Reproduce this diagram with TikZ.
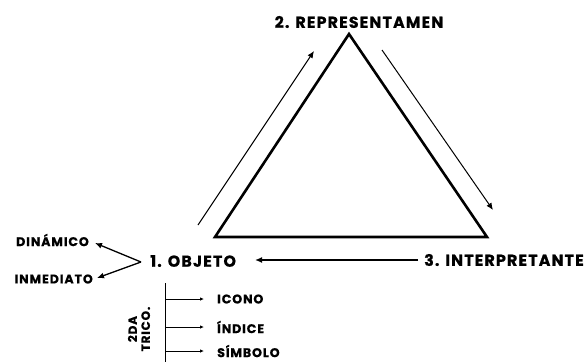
\documentclass[tikz,border=0pt]{standalone}
\usepackage{fontspec}
\setmainfont{Poppins}[BoldFont={* Bold}]
\newfontfamily\labfont{Poppins Bold}[LetterSpace=7,FakeBold=0.6]
\usetikzlibrary{arrows.meta}
\begin{document}
\begin{tikzpicture}[x=1pt,y=-1pt,
  big/.style={font=\labfont\fontsize{15.9}{17}\selectfont, inner sep=0pt},
  small/.style={font=\labfont\fontsize{12.6}{13}\selectfont, inner sep=0pt},
  tri/.style={line width=2.6pt, line join=miter},
  conn/.style={line width=1pt, -{Latex[length=7pt,width=6pt]}},
  thin/.style={line width=0.8pt, -{Latex[length=4pt,width=3.5pt]}}]
\useasboundingbox (0,0) rectangle (588,362);
% triangle
\coordinate (A) at (349,34);
\coordinate (B) at (215,237);
\coordinate (C) at (487,237);
\draw[tri] (A) -- (C) -- (B) -- cycle;
% labels
\node[big] (rep) at (359,22) {2. REPRESENTAMEN};
\node[big, anchor=west] (int) at (424,260) {3. INTERPRETANTE};
\node[big, anchor=west] (obj) at (150,261) {1. OBJETO};
% side arrows
\coordinate (l1) at (198,225);
\coordinate (l2) at (314,51);
\draw[conn] (l1) -- (l2);
\coordinate (r1) at (382,50);
\coordinate (r2) at (493,210);
\draw[conn] (r1) -- (r2);
\coordinate (i0) at (418,260);
\coordinate (o0) at (255,260);
\draw[conn, line width=1.4pt] (i0) -- (o0);
% objeto subtypes
\node[small, anchor=east] (din) at (89,240) {DINÁMICO};
\node[small, anchor=east] (inm) at (93,279) {INMEDIATO};
\coordinate (v) at (141,262);
\coordinate (d1) at (95,243);
\coordinate (m1) at (97,278);
\draw[conn, line width=1.3pt] (v) -- (d1);
\draw[conn, line width=1.3pt] (v) -- (m1);
% second trichotomy
\coordinate (t0) at (165,283);
\coordinate (t1) at (165,362);
\draw[line width=0.8pt] (t0) -- (t1);
\node[small, anchor=west] (ico) at (217,299) {ICONO};
\node[small, anchor=west] (ind) at (217,327) {ÍNDICE};
\node[small, anchor=west] (sim) at (217,351) {SÍMBOLO};
\coordinate (b1) at (165,299);
\coordinate (b2) at (165,327);
\coordinate (b3) at (165,351);
\coordinate (a1) at (204,299);
\coordinate (a2) at (204,327);
\coordinate (a3) at (204,351);
\draw[thin] (b1) -- (a1);
\draw[thin] (b2) -- (a2);
\draw[thin] (b3) -- (a3);
\node[small, rotate=90, align=center, font=\labfont\fontsize{12}{13}\selectfont] (tri) at (139,329) {2DA\\TRICO.};
\end{tikzpicture}
\end{document}
